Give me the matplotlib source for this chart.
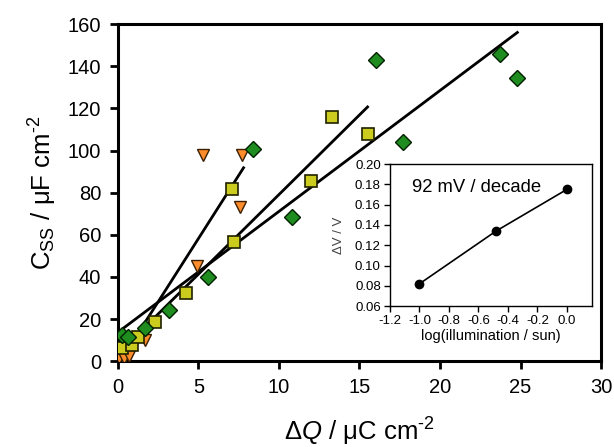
import matplotlib
matplotlib.use('Agg')
import matplotlib.pyplot as plt
import numpy as np

plt.rcParams['font.family'] = ['Liberation Sans', 'DejaVu Sans']
plt.rcParams['mathtext.fontset'] = 'custom'
plt.rcParams['mathtext.rm'] = 'Liberation Sans'
plt.rcParams['mathtext.it'] = 'Liberation Sans:italic'

# main plot data
green_x = [0.25, 0.6, 1.7, 3.2, 5.6, 8.4, 10.8, 16.0, 17.7, 23.7, 24.8]
green_y = [12.3, 11.6, 15.7, 24.2, 40.0, 100.7, 68.4, 143.0, 104.0, 146.0, 134.4]

yellow_x = [0.25, 0.85, 1.25, 2.3, 4.2, 7.2, 7.1, 12.0, 13.3, 15.5]
yellow_y = [6.2, 7.6, 11.4, 18.5, 32.3, 56.5, 81.7, 85.5, 116.0, 108.0]

orange_x = [0.0, 0.1, 0.4, 0.7, 1.7, 4.9, 5.3, 7.6, 7.7]
orange_y = [4.0, 1.5, 1.5, 2.5, 10.0, 45.0, 98.0, 73.0, 98.0]

# fitted lines: (slope, intercept, x start, x end)
green_fit = (5.74, 13.7, 0.4, 24.8)
yellow_fit = (7.56, 3.5, 0.5, 15.5)
orange_fit = (12.0, -1.8, 1.6, 7.8)

# inset data
inset_x = [-1.0, -0.48, 0.0]
inset_y = [0.082, 0.134, 0.175]

fig = plt.figure(figsize=(6.14, 4.47), dpi=100)
ax = fig.add_axes([0.192, 0.192, 0.787, 0.754])

for slope, icpt, x0, x1 in [green_fit, yellow_fit, orange_fit]:
    xs = np.array([x0, x1])
    ax.plot(xs, slope * xs + icpt, color='black', lw=2, zorder=2)

ax.plot(orange_x, orange_y, 'v', ms=9, mfc='#ff8c2a', mec='#3a2000', mew=1, ls='none', zorder=3)
ax.plot(yellow_x, yellow_y, 's', ms=8.5, mfc='#cccc1e', mec='#202000', mew=1.2, ls='none', zorder=4)
ax.plot(green_x, green_y, 'D', ms=8.5, mfc='#1f8c1f', mec='#002000', mew=1, ls='none', zorder=5)

ax.set_xlim(0, 30)
ax.set_ylim(0, 160)
ax.set_xticks(range(0, 31, 5))
ax.set_yticks(range(0, 161, 20))
for s in ax.spines.values():
    s.set_linewidth(2.2)
ax.tick_params(direction='out', length=6, width=2, labelsize=14.5, pad=6)
ax.set_xlabel(r'$\Delta Q$ / μC cm$^{\text{-}2}$', fontsize=18.5, labelpad=14)
ax.set_ylabel(r'C$_{\rm SS}$ / μF cm$^{\text{-}2}$', fontsize=18.5, labelpad=6)

# inset
ins = fig.add_axes([0.635, 0.315, 0.329, 0.318])
ins.plot(inset_x, inset_y, '-o', color='black', lw=1.2, ms=6)
ins.set_xlim(-1.2, 0.17)
ins.set_ylim(0.06, 0.20)
ins.set_xticks(np.arange(-1.2, 0.01, 0.2))
ins.set_xticklabels(['-1.2', '-1.0', '-0.8', '-0.6', '-0.4', '-0.2', '0.0'])
ins.set_yticks(np.arange(0.06, 0.201, 0.02))
ins.set_yticklabels(['0.06', '0.08', '0.10', '0.12', '0.14', '0.16', '0.18', '0.20'])
ins.tick_params(direction='out', length=4.5, width=1, labelsize=9.5, pad=2)
for s in ins.spines.values():
    s.set_linewidth(1)
ins.set_xlabel('log(illumination / sun)', fontsize=10.5, labelpad=1)
ins.set_ylabel('ΔV / V', fontsize=9.5, color='#444444', labelpad=7)
ins.text(-1.05, 0.172, '92 mV / decade', fontsize=13.3)

fig.savefig('out.png', dpi=100)
